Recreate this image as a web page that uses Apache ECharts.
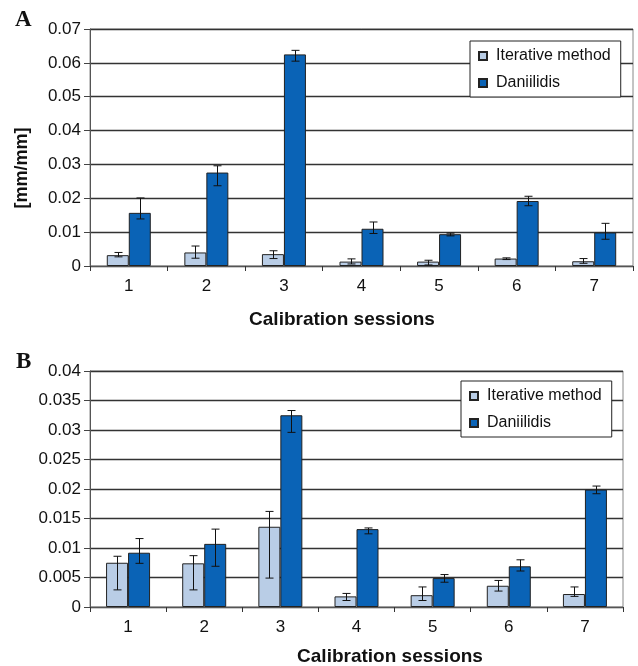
<!DOCTYPE html>
<html>
<head>
<meta charset="utf-8">
<script src="https://cdn.jsdelivr.net/npm/echarts@6/dist/echarts.min.js"></script>
<style>
  html, body { margin: 0; padding: 0; background: #fff; }
  #main { width: 638px; height: 666px; }
</style>
</head>
<body>
<div id="main"></div>
<script>
// sessions
var sessions = ['1', '2', '3', '4', '5', '6', '7'];

// A
var iterA = [0.0032, 0.0040, 0.0035, 0.0013, 0.0013, 0.0022, 0.0014];
var iterALow = [0.0027, 0.0023, 0.0022, 0.0006, 0.0003, 0.0019, 0.0008];
var iterAHigh = [0.0040, 0.0059, 0.0045, 0.0021, 0.0017, 0.0024, 0.0022];
var danA = [0.0157, 0.0276, 0.0625, 0.0110, 0.0094, 0.0192, 0.0099];
var danALow = [0.0139, 0.0237, 0.0605, 0.0096, 0.0089, 0.0178, 0.0079];
var danAHigh = [0.0201, 0.0296, 0.0637, 0.0130, 0.0097, 0.0206, 0.0126];

// B
var iterB = [0.0075, 0.0074, 0.0136, 0.0018, 0.0020, 0.0036, 0.0022];
var iterBLow = [0.0029, 0.0029, 0.0049, 0.0011, 0.0011, 0.0027, 0.0018];
var iterBHigh = [0.0086, 0.0087, 0.0162, 0.0023, 0.0034, 0.0045, 0.0034];
var danB = [0.0092, 0.0107, 0.0325, 0.0132, 0.0049, 0.0069, 0.0199];
var danBLow = [0.0074, 0.0069, 0.0296, 0.0124, 0.0042, 0.0061, 0.0192];
var danBHigh = [0.0116, 0.0132, 0.0333, 0.0134, 0.0055, 0.0080, 0.0205];

var lightBlue = '#b9cde6';
var darkBlue = '#0a63b6';
var BAR_W = 22;

function errData(low, high) {
    return low.map(function (v, i) { return [i, v, high[i]]; });
}

function errSeries(idx, low, high, shift) {
    return {
        type: 'custom',
        xAxisIndex: idx,
        yAxisIndex: idx,
        z: 5,
        silent: true,
        encode: { x: 0, y: [1, 2] },
        data: errData(low, high),
        renderItem: function (params, api) {
            var i = api.value(0);
            var lo = api.coord([i, api.value(1)]);
            var hi = api.coord([i, api.value(2)]);
            var x = Math.round(lo[0] + shift) + 0.5;
            var cap = 4;
            var st = { stroke: '#111', lineWidth: 1 };
            return {
                type: 'group',
                children: [
                    { type: 'line', shape: { x1: x, y1: hi[1], x2: x, y2: lo[1] }, style: st },
                    { type: 'line', shape: { x1: x - cap, y1: hi[1], x2: x + cap, y2: hi[1] }, style: st },
                    { type: 'line', shape: { x1: x - cap, y1: lo[1], x2: x + cap, y2: lo[1] }, style: st }
                ]
            };
        }
    };
}

function barSeries(name, idx, data, color) {
    return {
        name: name,
        type: 'bar',
        xAxisIndex: idx,
        yAxisIndex: idx,
        barWidth: BAR_W,
        barGap: '0%',
        data: data,
        itemStyle: { color: color, borderColor: '#222', borderWidth: 1 }
    };
}

var labelFont = { fontFamily: 'Liberation Sans', color: '#111' };

function xAxisCfg(idx) {
    return {
        type: 'category',
        gridIndex: idx,
        data: sessions,
        boundaryGap: true,
        axisLine: { lineStyle: { color: '#555', width: 1 } },
        axisTick: { show: true, length: 5, inside: false, lineStyle: { color: '#333' } },
        axisLabel: Object.assign({ fontSize: 17, margin: 12 }, labelFont),
        splitLine: { show: false }
    };
}

function yAxisCfg(idx, max, step) {
    return {
        type: 'value',
        gridIndex: idx,
        min: 0,
        max: max,
        interval: step,
        axisLine: { show: true, lineStyle: { color: '#555' } },
        axisTick: { show: true, length: 6, lineStyle: { color: '#444' } },
        axisLabel: Object.assign({
            fontSize: 17,
            margin: 9,
            formatter: function (v) { return String(parseFloat(v.toFixed(4))); }
        }, labelFont),
        splitLine: { show: true, lineStyle: { color: '#333', width: 1.3 } }
    };
}

function legendCfg(left, top) {
    return {
        orient: 'vertical',
        left: left,
        top: top,
        data: ['Iterative method', 'Daniilidis'],
        backgroundColor: '#fff',
        borderColor: '#222',
        borderWidth: 1,
        padding: [7, 10, 6, 8],
        itemWidth: 8,
        itemHeight: 8,
        itemGap: 11,
        icon: 'rect',
        textStyle: { fontFamily: 'Liberation Sans', fontSize: 16, color: '#111', padding: [0, 0, 0, 4] },
        selectedMode: false
    };
}

var myChart = echarts.init(document.getElementById('main'));

var option = {
    backgroundColor: '#fff',
    animation: false,
    grid: [
        { left: 90, top: 29, width: 543, height: 237, show: true, borderColor: '#888', borderWidth: 1 },
        { left: 90, top: 371, width: 533, height: 236, show: true, borderColor: '#888', borderWidth: 1 }
    ],
    legend: [legendCfg(470, 41), legendCfg(461, 381)],
    xAxis: [xAxisCfg(0), xAxisCfg(1)],
    yAxis: [yAxisCfg(0, 0.07, 0.01), yAxisCfg(1, 0.04, 0.005)],
    graphic: [
        { type: 'text', left: 15, top: 9, style: { text: 'A', font: 'bold 23px "Liberation Serif"', fill: '#111' } },
        { type: 'text', left: 16, top: 351, style: { text: 'B', font: 'bold 23px "Liberation Serif"', fill: '#111' } },
        {
            type: 'text', x: 22, y: 168, rotation: Math.PI / 2,
            style: { text: '[mm/mm]', font: 'bold 18px "Liberation Sans"', fill: '#111', align: 'center', verticalAlign: 'middle' }
        },
        {
            type: 'text', x: 342, y: 320,
            style: { text: 'Calibration sessions', font: 'bold 19px "Liberation Sans"', fill: '#111', align: 'center', verticalAlign: 'middle' }
        },
        {
            type: 'text', x: 390, y: 657,
            style: { text: 'Calibration sessions', font: 'bold 19px "Liberation Sans"', fill: '#111', align: 'center', verticalAlign: 'middle' }
        }
    ],
    series: [
        barSeries('Iterative method', 0, iterA, lightBlue),
        barSeries('Daniilidis', 0, danA, darkBlue),
        barSeries('Iterative method', 1, iterB, lightBlue),
        barSeries('Daniilidis', 1, danB, darkBlue),
        errSeries(0, iterALow, iterAHigh, -BAR_W / 2),
        errSeries(0, danALow, danAHigh, BAR_W / 2),
        errSeries(1, iterBLow, iterBHigh, -BAR_W / 2),
        errSeries(1, danBLow, danBHigh, BAR_W / 2)
    ]
};

myChart.setOption(option);

window.onresize = function () {
    myChart.resize();
};
</script>
</body>
</html>
